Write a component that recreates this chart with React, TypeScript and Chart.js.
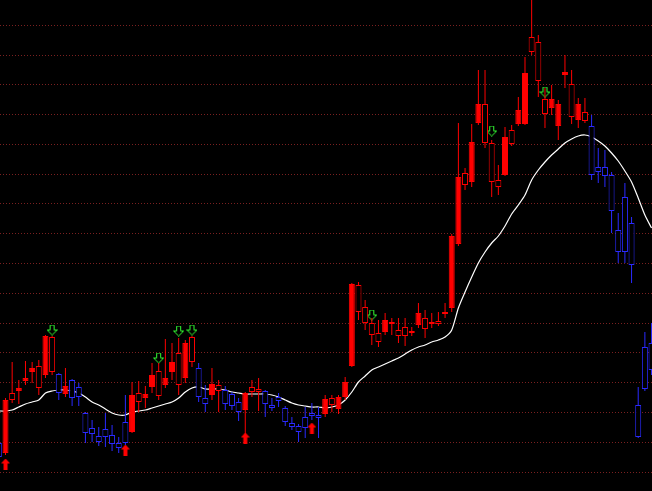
import React, { useEffect, useRef } from 'react';
import { Chart, registerables } from 'chart.js';

Chart.register(...registerables);

// Candle colour regime: r = red, b = blue (one char per trading day)
const TONE = 'b' + 'rrrrrrrr' + 'b' + 'r' + 'bbbbbbbbb' + 'rrrrrrrrrr' + 'bb' + 'rr' + 'bbb' + 'rrr' + 'bbbbbbbbb' +
  'rrrrrrrrrrrrrrrrrrrrrrrrrrrrrrrrrrrrrrrr' + 'bbbbbbbbbb';

const OPEN = [
  10.57, 10.47, 11.07, 11.09, 11.19, 11.28, 11.34, 11.25, 11.63, 11.26,
  11.06, 11.20, 11.13, 10.87, 10.72, 10.64, 10.71, 10.65, 10.57, 10.78,
  10.68, 11.07, 11.02, 11.13, 11.29, 11.15, 11.28, 11.47, 11.22, 11.63,
  11.32, 11.02, 11.05, 11.15, 11.10, 11.06, 10.98, 10.90, 11.13, 11.11,
  11.09, 10.95, 11.03, 10.92, 10.77, 10.74, 10.83, 10.87, 10.85, 10.86,
  11.02, 10.91, 11.03, 11.34, 12.15, 11.93, 11.77, 11.67, 11.68, 11.76,
  11.70, 11.73, 11.67, 11.75, 11.82, 11.76, 11.79, 11.88, 11.92, 12.56,
  13.27, 13.18, 13.77, 13.96, 13.57, 13.20, 13.25, 13.70, 13.76, 13.76,
  14.63, 14.58, 14.01, 13.92, 13.74, 14.25, 14.16, 13.80, 13.88, 13.74,
  13.33, 13.33, 13.25, 12.70, 13.03, 12.77, 10.95, 11.53, 11.57,
];

const HIGH = [
  10.60, 11.02, 11.38, 11.20, 11.39, 11.38, 11.40, 11.65, 11.64, 11.27,
  11.32, 11.21, 11.17, 10.88, 10.80, 10.73, 10.87, 10.75, 10.63, 11.05,
  11.18, 11.19, 11.14, 11.37, 11.37, 11.61, 11.57, 11.62, 11.60, 11.64,
  11.37, 11.15, 11.32, 11.20, 11.14, 11.08, 11.02, 11.08, 11.20, 11.22,
  11.10, 11.02, 11.07, 10.94, 10.83, 10.76, 10.93, 10.97, 10.93, 11.05,
  11.05, 11.05, 11.23, 12.17, 12.18, 12.00, 11.82, 11.80, 11.87, 11.82,
  11.82, 11.82, 11.73, 11.97, 11.90, 11.87, 11.88, 11.97, 12.66, 13.77,
  13.32, 13.76, 14.30, 14.30, 13.60, 13.35, 13.73, 13.75, 14.03, 14.43,
  15.05, 14.65, 14.12, 14.15, 14.00, 14.45, 14.30, 14.02, 14.02, 13.85,
  13.52, 13.50, 13.28, 12.87, 13.17, 12.83, 11.13, 11.68, 11.77,
];

const LOW = [
  10.40, 10.45, 10.97, 10.96, 11.15, 11.17, 11.05, 11.22, 11.25, 11.00,
  11.03, 10.94, 10.94, 10.57, 10.58, 10.54, 10.53, 10.49, 10.47, 10.55,
  10.67, 10.88, 10.92, 11.07, 11.00, 11.12, 11.20, 11.05, 11.17, 11.33,
  10.98, 10.88, 11.00, 10.88, 10.90, 10.90, 10.79, 10.65, 11.03, 10.89,
  10.83, 10.89, 10.93, 10.74, 10.70, 10.58, 10.62, 10.80, 10.62, 10.83,
  10.88, 10.86, 11.00, 11.33, 11.80, 11.70, 11.55, 11.53, 11.65, 11.65,
  11.57, 11.54, 11.64, 11.72, 11.62, 11.72, 11.74, 11.82, 11.88, 12.54,
  13.10, 13.13, 13.75, 13.52, 13.03, 13.05, 13.24, 13.54, 13.74, 13.75,
  14.45, 14.03, 13.72, 13.85, 13.60, 14.12, 13.76, 13.72, 13.77, 13.20,
  13.17, 13.13, 12.67, 12.37, 12.37, 12.17, 10.62, 11.09, 11.25,
];

const CLOSE = [
  10.43, 11.00, 11.00, 11.12, 11.22, 11.32, 11.12, 11.64, 11.28, 11.07,
  11.14, 11.02, 11.03, 10.67, 10.66, 10.58, 10.63, 10.56, 10.52, 10.57,
  11.05, 10.98, 11.06, 11.25, 11.04, 11.22, 11.38, 11.15, 11.57, 11.38,
  11.03, 10.96, 11.16, 11.09, 10.96, 10.94, 10.88, 11.07, 11.08, 11.08,
  10.96, 10.92, 10.99, 10.78, 10.73, 10.68, 10.72, 10.84, 10.82, 11.01,
  10.95, 11.03, 11.18, 12.16, 11.88, 11.77, 11.65, 11.58, 11.80, 11.78,
  11.64, 11.64, 11.69, 11.87, 11.71, 11.78, 11.76, 11.86, 12.64, 13.23,
  13.15, 13.58, 13.96, 13.57, 13.18, 13.13, 13.63, 13.56, 13.90, 14.27,
  14.48, 14.19, 13.86, 14.01, 13.96, 14.28, 13.83, 13.96, 13.79, 13.25,
  13.28, 13.24, 12.89, 12.48, 12.48, 12.35, 10.63, 11.11, 11.30,
];

// Moving average line
const MA = [
  10.89, 10.89, 10.90, 10.93, 10.96, 10.98, 11.00, 11.07, 11.09, 11.10,
  11.10, 11.09, 11.07, 11.03, 10.98, 10.95, 10.91, 10.87, 10.85, 10.85,
  10.88, 10.89, 10.90, 10.92, 10.94, 10.96, 10.98, 11.02, 11.08, 11.12,
  11.13, 11.11, 11.11, 11.11, 11.10, 11.08, 11.07, 11.06, 11.06, 11.06,
  11.06, 11.05, 11.03, 11.00, 10.97, 10.95, 10.94, 10.93, 10.93, 10.92,
  10.93, 10.95, 11.00, 11.08, 11.18, 11.24, 11.30, 11.33, 11.36, 11.39,
  11.42, 11.46, 11.50, 11.53, 11.55, 11.58, 11.60, 11.63, 11.70, 11.92,
  12.08, 12.23, 12.37, 12.48, 12.57, 12.64, 12.74, 12.86, 12.95, 13.05,
  13.20, 13.30, 13.38, 13.45, 13.51, 13.57, 13.61, 13.64, 13.65, 13.63,
  13.59, 13.54, 13.47, 13.39, 13.29, 13.18, 13.02, 12.85, 12.72,
];

// Signal arrows
const BUY_DAYS = [1, 19, 37, 47];
const BUY_MARK = [10.36, 10.50, 10.62, 10.72];
const SELL_DAYS = [8, 24, 27, 29, 56, 74, 82];
const SELL_MARK = [11.70, 11.42, 11.69, 11.70, 11.85, 13.69, 14.08];

// Horizontal grid levels
const GRID_LEVELS = [
  10.278, 10.576, 10.874, 11.172, 11.470, 11.768, 12.066, 12.364,
  12.662, 12.960, 13.258, 13.556, 13.854, 14.152, 14.450, 14.748,
];

const RED = '#ff0000';
const BLUE = '#2a2aff';
const GREEN = '#33ff33';

function upArrow(): HTMLCanvasElement {
  const c = document.createElement('canvas');
  c.width = 9;
  c.height = 11;
  const g = c.getContext('2d')!;
  g.fillStyle = RED;
  g.beginPath();
  g.moveTo(4.5, 0);
  g.lineTo(9, 5);
  g.lineTo(6.5, 5);
  g.lineTo(6.5, 11);
  g.lineTo(2.5, 11);
  g.lineTo(2.5, 5);
  g.lineTo(0, 5);
  g.closePath();
  g.fill();
  return c;
}

function downArrow(): HTMLCanvasElement {
  const c = document.createElement('canvas');
  c.width = 11;
  c.height = 11;
  const g = c.getContext('2d')!;
  g.strokeStyle = GREEN;
  g.lineWidth = 1;
  g.beginPath();
  g.moveTo(3.5, 0.5);
  g.lineTo(7.5, 0.5);
  g.lineTo(7.5, 5.5);
  g.lineTo(10.5, 5.5);
  g.lineTo(5.5, 10.5);
  g.lineTo(0.5, 5.5);
  g.lineTo(3.5, 5.5);
  g.closePath();
  g.stroke();
  return c;
}

export default function App() {
  const ref = useRef<HTMLCanvasElement>(null);

  useEffect(() => {
    document.body.style.margin = '0';
    document.body.style.background = '#000';
    const canvas = ref.current!;
    const days = OPEN.map((_, k) => k);
    const toneColor = (k: number) => (TONE[k] === 'b' ? BLUE : RED);
    const bodyFill = (k: number) => (TONE[k] === 'r' && CLOSE[k] > OPEN[k] ? RED : '#000');

    const chart = new Chart(canvas, {
      type: 'bar',
      data: {
        datasets: [
          {
            type: 'bar',
            label: 'body',
            data: days.map((k) => ({ x: k, y: [OPEN[k], CLOSE[k]] })) as any,
            backgroundColor: days.map(bodyFill),
            borderColor: days.map(toneColor),
            borderWidth: 1,
            borderSkipped: false,
            barThickness: 6,
            minBarLength: 2,
            inflateAmount: 0,
            grouped: false,
            order: 1,
          } as any,
          {
            type: 'bar',
            label: 'wick',
            data: days.map((k) => ({ x: k, y: [LOW[k], HIGH[k]] })) as any,
            backgroundColor: days.map(toneColor),
            borderWidth: 0,
            borderSkipped: false,
            barThickness: 1,
            inflateAmount: 0,
            grouped: false,
            order: 5,
          } as any,
          {
            type: 'line',
            label: 'MA',
            data: days.map((k) => ({ x: k, y: MA[k] })) as any,
            borderColor: '#ffffff',
            borderWidth: 1.2,
            pointRadius: 0,
            tension: 0.25,
            order: 10,
          } as any,
          {
            type: 'line',
            label: 'buy',
            data: BUY_DAYS.map((d, j) => ({ x: d, y: BUY_MARK[j] })) as any,
            showLine: false,
            pointStyle: upArrow(),
            pointRadius: 5,
            order: 9,
          } as any,
          {
            type: 'line',
            label: 'sell',
            data: SELL_DAYS.map((d, j) => ({ x: d, y: SELL_MARK[j] })) as any,
            showLine: false,
            pointStyle: downArrow(),
            pointRadius: 5,
            order: 9,
          } as any,
        ],
      },
      options: {
        animation: false,
        responsive: false,
        devicePixelRatio: 1,
        layout: { padding: 0, autoPadding: false },
        plugins: { legend: { display: false }, tooltip: { enabled: false } },
        scales: {
          x: {
            type: 'linear',
            min: 0.174,
            max: 98.07,
            offset: false,
            display: false,
          },
          y: {
            type: 'linear',
            min: 10.09,
            max: 15.0,
            afterBuildTicks: (scale: any) => {
              scale.ticks = GRID_LEVELS.map((v) => ({ value: v }));
            },
            ticks: { display: false, padding: 0 },
            grid: { color: '#7a2020', lineWidth: 1, drawTicks: false },
            border: { display: false, dash: [1, 2] },
          },
        },
      } as any,
    });
    return () => chart.destroy();
  }, []);

  return (
    <div style={{ position: 'fixed', left: 0, top: 0, width: 652, height: 491, background: '#000' }}>
      <canvas ref={ref} width={652} height={491} style={{ display: 'block', width: 652, height: 491 }} />
    </div>
  );
}
